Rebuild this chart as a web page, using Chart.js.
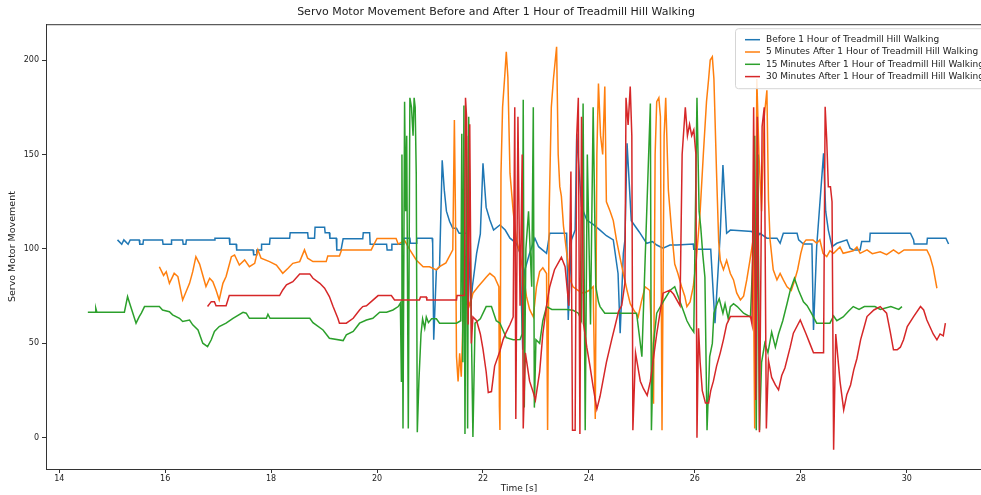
<!DOCTYPE html>
<html>
<head>
<meta charset="utf-8">
<title>Servo Motor Movement</title>
<script src="https://cdn.jsdelivr.net/npm/chart.js@4.4.1/dist/chart.umd.min.js"></script>
<style>
  html, body { margin: 0; padding: 0; background: #fff; overflow: hidden; }
</style>
</head>
<body>
<canvas id="servoChart" width="992" height="495"></canvas>
<script>
// series labels
const seriesLabels = [
    "Before 1 Hour of Treadmill Hill Walking",
    "5 Minutes After 1 Hour of Treadmill Hill Walking",
    "15 Minutes After 1 Hour of Treadmill Hill Walking",
    "30 Minutes After 1 Hour of Treadmill Hill Walking"
];

// [time in s, servo movement]
const beforeData = [
    [15.10,104.8],[15.18,102.5],[15.22,104.8],[15.30,102.5],[15.34,104.8],[15.51,104.8],[15.52,102.5],[15.58,102.5],[15.59,104.8],
    [15.95,104.8],[15.96,102.5],[16.11,102.5],[16.12,104.8],[16.33,104.8],[16.34,102.5],[16.39,102.5],[16.40,104.8],[16.93,104.8],
    [16.94,105.7],[17.21,105.7],[17.22,102.5],[17.34,102.5],[17.35,99.5],[17.66,99.5],[17.67,97],[17.72,97],[17.73,99.5],[17.81,99.5],
    [17.82,102.5],[17.97,102.5],[17.98,105.7],[18.35,105.7],[18.36,108.6],[18.69,108.6],[18.70,105.7],[18.82,105.7],[18.83,111.5],
    [19.01,111.5],[19.02,108.6],[19.10,108.6],[19.11,105.7],[19.23,105.7],[19.24,99.5],[19.32,99.5],[19.36,105.4],[19.73,105.4],
    [19.74,108.6],[19.86,108.6],[19.87,102.5],[20.18,102.5],[20.19,99.5],[20.27,99.5],[20.28,102.5],[20.50,102.5],[20.51,105.7],
    [20.62,105.7],[20.63,103],[20.74,103],[20.75,105.7],[21.04,105.7],[21.05,103],
    [21.07,51.9],[21.12,88.9],[21.18,90.6],[21.23,147],[21.27,131],[21.31,120],[21.37,114.5],[21.43,110.9],[21.50,110.9],[21.55,108.3],
    [21.72,108.3],[21.77,69.9],[21.80,80],[21.88,97.7],[21.95,108],[22.00,145.4],[22.06,122],[22.13,115.3],[22.20,110],[22.32,112.7],
    [22.42,110],[22.51,105.7],[22.63,103],[22.70,97.7],[22.75,46.6],[22.79,88.9],[22.88,97.7],[22.98,105.7],[23.05,101.2],[23.20,97.7],
    [23.26,108.3],[23.40,108.3],[23.58,108.3],[23.61,62.4],[23.67,104.8],[23.74,110],[23.77,161],[23.86,122.4],[23.96,115.3],
    [24.08,113],[24.21,110],[24.33,107],[24.46,104.8],[24.55,87],[24.59,55.4],[24.65,97.7],[24.68,104.8],[24.72,155.9],
    [24.80,115],[24.95,109],[25.09,103],[25.20,103.9],[25.28,102.1],[25.40,100.4],[25.53,102.1],[25.66,102.1],
    [25.97,102.6],[25.98,99.8],[26.30,99.8],[26.38,60.7],[26.48,108.3],[26.53,144.4],[26.60,108.3],[26.67,110],[27.08,109.2],[27.14,104.8],
    [27.23,108.3],[27.36,105.7],[27.55,105.7],[27.61,103],[27.67,108.3],[27.93,108.3],[27.96,104.8],[28.05,102.6],[28.21,102.6],[28.24,57.1],
    [28.30,101.2],[28.43,150.6],[28.47,120],[28.52,110],[28.59,101.2],[28.68,103],[28.87,104.8],[28.93,100.4],[28.99,99.5],[29.12,99.5],
    [29.15,103.9],[29.30,103.9],[29.31,108.3],[30.07,108.3],[30.13,104.8],[30.14,102.6],[30.38,102.6],[30.39,105.7],[30.74,105.7],[30.79,102.6]
];

const fiveMinData = [
    [15.89,90.6],[15.97,86],[16.02,88],[16.08,81.8],[16.17,87.1],[16.24,85.4],[16.33,73],[16.46,81.8],[16.52,88],[16.58,95.9],[16.65,92],
    [16.77,80.1],[16.84,84.5],[16.90,82.7],[16.96,78.3],[17.02,73],[17.09,81.8],[17.15,85.4],[17.25,95.9],[17.31,96.8],[17.40,91.5],
    [17.50,94.2],[17.59,90.6],[17.69,92.4],[17.75,99.5],[17.81,95.1],[17.97,93.3],[18.10,91.5],[18.22,87.1],[18.32,89.8],[18.41,92.4],
    [18.54,93.3],[18.63,99.5],[18.69,95.1],[18.79,93.3],[19.04,93.3],[19.07,96.3],[19.29,96.3],[19.33,99.5],[19.89,99.5],[19.92,101.2],
    [20.00,105.6],[20.36,105.6],[20.40,102.5],[20.52,104.5],[20.62,99.5],[20.74,94.2],[20.87,90.6],[20.99,90.6],[21.12,88.9],[21.18,90.6],
    [21.30,92.6],[21.43,99.5],
    [21.46,168.3],[21.48,120],[21.50,43],[21.53,29.9],[21.56,44.8],[21.59,32.4],[21.62,60],[21.69,76.5],[21.75,70],[21.81,76.5],[21.91,80.1],
    [22.00,83],[22.06,85],[22.13,87.1],[22.22,85],[22.30,80],[22.31,16.6],[22.32,4.2],[22.34,140],[22.37,175],[22.41,191.2],
    [22.44,204.4],[22.47,191],[22.51,140],[22.57,120],[22.63,104.8],[22.70,97.7],[22.76,87],[22.82,75],[22.88,68],[22.95,64],
    [23.01,80],[23.07,88],[23.13,90],[23.20,87],[23.22,4.2],[23.25,120],[23.29,175],[23.33,190],[23.39,207],[23.42,150],
    [23.45,133],[23.48,128],[23.52,112],[23.58,98],[23.64,84],[23.70,80],[23.80,78],[23.90,76.5],[24.00,78],[24.08,80],[24.12,10],
    [24.15,150],[24.18,187.6],[24.22,160],[24.26,150],[24.30,186],[24.33,125],[24.40,120],[24.46,115],[24.52,104.8],[24.59,95],[24.65,87],
    [24.72,78],[24.78,71],[24.84,68],[24.93,64],[24.99,72],[25.06,80],[25.15,78],[25.20,40],[25.22,18],[25.25,150],[25.28,178],[25.32,180],
    [25.35,170],[25.38,4],[25.42,160],[25.45,180],[25.50,131],[25.56,110],[25.62,92],[25.68,87],[25.75,80],[25.81,75],[25.85,69.5],[25.91,72],
    [25.97,80],[26.03,95],[26.10,120],[26.16,150],[26.22,178],[26.26,190],[26.29,200],[26.33,201.7],[26.36,190],[26.41,140],[26.45,104],
    [26.48,94],[26.54,89],[26.60,94],[26.67,87],[26.73,83.6],[26.79,76.7],[26.86,73],[26.92,75],[26.98,83.6],[27.04,94],[27.10,105],
    [27.13,5],[27.17,190],[27.21,150],[27.26,120],[27.31,170],[27.36,184],[27.39,126],[27.42,104.8],[27.48,89],[27.55,83.6],[27.61,87],
    [27.67,83.6],[27.74,80],[27.82,78],[27.88,83],[27.94,89],[28.00,97.7],[28.05,103],[28.10,104.8],[28.23,104.8],[28.30,103],[28.36,104.8],
    [28.42,97.7],[28.49,96],[28.55,99],[28.62,97.7],[28.74,101],[28.80,97.7],[28.99,99],[29.06,101],[29.12,97.7],[29.25,99.5],[29.35,97.5],
    [29.50,98.5],[29.62,97],[29.75,99.5],[29.85,97.5],[29.95,99.5],[30.38,99.5],[30.44,96],[30.50,90],[30.57,79.2]
];

const fifteenMinData = [
    [14.54,66.5],[14.69,66.5],[14.69,68.6],[14.71,66.5],[15.23,66.5],[15.29,74.8],[15.32,72.1],[15.39,66],[15.45,60.7],[15.51,64.2],
    [15.55,66],[15.61,69.5],[15.89,69.5],[15.95,67.7],[16.08,66.8],[16.14,65.1],[16.27,63.3],[16.33,61.6],[16.46,62.4],[16.52,59.8],
    [16.62,57.1],[16.71,50.1],[16.80,48.3],[16.87,51.9],[16.93,56.3],[17.02,58.9],[17.15,60.7],[17.28,63.3],[17.47,66.5],[17.53,66],
    [17.59,63.3],[17.91,63.3],[17.94,65.4],[17.98,63.3],[18.73,63.3],[18.79,61],[18.98,57.1],[19.10,52.7],[19.36,51.5],[19.42,54.5],
    [19.55,56.3],[19.67,60.7],[19.80,62.4],[19.92,63.3],[20.05,66.5],[20.18,66.5],[20.30,67.7],[20.40,69.5],[20.44,71.3],
    [20.46,30],[20.47,150],[20.49,5],[20.52,178],[20.54,120],[20.56,160],[20.59,5],[20.62,180],[20.65,175],[20.68,160],[20.70,180],
    [20.72,175],[20.74,140],[20.76,3],[20.79,30],[20.83,55],[20.86,63],[20.90,58],[20.93,64],[20.97,61],[21.03,63],[21.12,63],
    [21.18,60.7],[21.50,60.7],[21.58,62],[21.60,161],[21.62,40],[21.64,176],[21.66,2],[21.69,160],[21.71,5],[21.73,170],[21.78,60],
    [21.81,0.5],[21.85,60.7],[21.95,63],[22.06,69.5],[22.16,69.5],[22.25,62],[22.32,60.7],[22.44,53],[22.57,51.9],[22.70,52],[22.74,55],
    [22.76,179],[22.78,16],[22.81,100],[22.86,120],[22.92,80],[22.95,175],[22.97,16],[23.00,51.9],[23.07,50],[23.13,62],
    [23.20,69.5],[23.30,68],[23.45,68],[23.58,68],[23.70,67.5],[23.80,66],[23.86,62],[23.89,177],[23.93,4],[23.97,150],[24.03,60],
    [24.08,175],[24.13,80],[24.18,72],[24.21,69.5],[24.30,66],[24.46,66],[24.65,66],[24.74,66],[24.90,66],[24.97,50],[25.00,43],
    [25.16,177],[25.18,4],[25.22,50],[25.28,66],[25.40,72],[25.53,78],[25.62,80],[25.72,72],[25.80,66],[25.85,62],
    [25.91,58.9],[25.98,56],[26.04,180],[26.08,120],[26.11,112],[26.15,97],[26.19,85],[26.23,4],[26.28,43],[26.33,50],[26.36,66],
    [26.42,71],[26.46,73.6],[26.53,66],[26.57,71],[26.63,63],[26.67,69.5],[26.73,71],[26.80,69.5],
    [26.92,66],[27.05,64],[27.10,100],[27.13,160],[27.16,4],[27.19,150],[27.22,4],[27.26,40],[27.32,50],[27.38,45],[27.45,56],
    [27.52,48],[27.58,55],[27.66,62],[27.74,71],[27.80,78],[27.88,84.5],[27.96,78],[28.05,72],[28.12,70],[28.20,66],[28.30,60.7],
    [28.55,60.7],[28.62,64.5],[28.68,62],[28.80,64],[28.90,67],[28.99,69.5],[29.10,68],[29.20,69.5],[29.40,69.5],[29.50,68],
    [29.70,69.5],[29.85,68],[29.91,69.5]
];

const thirtyMinData = [
    [16.80,69.5],[16.87,72.1],[16.93,72.1],[16.96,69.9],[17.15,69.9],[17.21,75.3],[18.16,75.3],[18.22,78.3],[18.29,81],[18.41,82.7],
    [18.54,86.8],[18.73,86.8],[18.79,84.5],[18.92,81.8],[19.01,79.2],[19.10,74.8],[19.17,69.5],[19.26,63.3],[19.29,60.7],[19.42,60.7],
    [19.55,63.3],[19.67,67.7],[19.73,69.5],[19.80,69.9],[19.89,72.1],[20.02,75.3],[20.27,75.3],[20.33,73],[20.80,73],[20.82,74.5],
    [20.93,74.5],[20.94,73],[21.50,73],[21.51,75.3],[21.65,75.3],
    [21.67,180],[21.69,170],[21.72,60],[21.75,166],[21.78,50],[21.81,64],[21.88,62],[21.95,55],[22.00,47],[22.06,35],
    [22.10,24],[22.16,24.5],[22.22,38],[22.32,46],[22.38,52],[22.44,56],[22.51,60],[22.57,64],[22.60,175],[22.62,10],
    [22.66,170],[22.70,70],[22.74,150],[22.76,5],[22.80,45],[22.88,30],[22.95,24],[22.99,20],[23.07,35],[23.13,55],[23.20,70],
    [23.26,80],[23.35,89],[23.48,95.6],[23.55,90.6],[23.62,70],[23.66,141],[23.69,4],[23.74,4],[23.77,160],[23.80,180],[23.83,2],
    [23.86,170],[23.90,60],[23.96,48],[24.02,38],[24.08,27],[24.15,15.2],[24.21,22],[24.33,40],[24.43,52],[24.50,60],
    [24.56,67],[24.62,70],[24.68,82],[24.70,180],[24.74,165.6],[24.78,186],[24.81,160],[24.83,4],[24.88,45],[24.97,30],[25.03,26],
    [25.10,22.5],[25.16,30],[25.28,55],[25.40,76.6],[25.53,78.2],[25.60,76],[25.72,70],[25.76,150],[25.82,175],
    [25.86,160],[25.90,166],[25.94,160],[25.98,163],[26.02,150],[26.04,0],[26.07,58],[26.10,40],[26.14,25],[26.20,18.4],[26.26,18.4],
    [26.30,25],[26.35,30],[26.41,38],[26.48,45],[26.54,52],[26.60,60],[26.67,64.2],[27.05,64.2],[27.08,60],[27.11,175],[27.15,20],
    [27.18,170],[27.22,3],[27.27,165],[27.31,175],[27.35,5],[27.39,41],[27.45,32],[27.52,28],[27.58,25.4],[27.64,33],[27.70,37],
    [27.80,48],[27.86,55.4],[27.99,62.4],[28.10,55],[28.17,50],[28.24,45],[28.43,45],[28.46,175.3],[28.49,157.7],[28.52,133],
    [28.56,133],[28.59,125],[28.62,-6.3],[28.66,55],[28.74,30],[28.81,14.8],[28.87,23],[28.94,28],[29.00,36],[29.06,42],[29.13,52],
    [29.19,58],[29.25,64.2],[29.38,67.7],[29.50,69.5],[29.62,66],[29.69,56],[29.75,46.6],[29.82,46.6],[29.88,48],[29.94,51.9],
    [30.01,58.9],[30.13,64.2],[30.26,69.5],[30.32,67.7],[30.38,62.4],[30.50,55],[30.57,51.9],[30.63,55],[30.69,54],[30.73,60.7]
];

const seriesColors = ["#1f77b4", "#ff7f0e", "#2ca02c", "#d62728"];
const xTicks = [14, 16, 18, 20, 22, 24, 26, 28, 30];
const yTicks = [0, 50, 100, 150, 200];

const allSeries = [beforeData, fiveMinData, fifteenMinData, thirtyMinData];

// matplotlib style box around the axes
const axesFrame = {
    id: "axesFrame",
    afterDatasetsDraw(chart) {
        const { ctx, chartArea: a } = chart;
        ctx.save();
        ctx.strokeStyle = "#333";
        ctx.lineWidth = 1;
        ctx.strokeRect(a.left + 0.5, a.top + 0.5, a.right - a.left, a.bottom - a.top);
        ctx.restore();
    }
};

// legend drawn inside the plot, upper right
const insideLegend = {
    id: "insideLegend",
    afterDraw(chart) {
        const { ctx, chartArea: a } = chart;
        const left = a.left + 689;
        const top = a.top + 4;
        const right = a.right - 3;
        ctx.save();
        ctx.fillStyle = "rgba(255,255,255,0.85)";
        ctx.strokeStyle = "#d5d5d5";
        ctx.lineWidth = 1;
        ctx.beginPath();
        ctx.roundRect(left + 0.5, top + 0.5, right - left, 60, 3);
        ctx.fill();
        ctx.stroke();
        ctx.font = '9px "DejaVu Sans"';
        ctx.textBaseline = "middle";
        chart.data.datasets.forEach((ds, i) => {
            const y = top + 11.5 + i * 12.3;
            ctx.strokeStyle = ds.borderColor;
            ctx.lineWidth = 1.5;
            ctx.beginPath();
            ctx.moveTo(left + 10, y);
            ctx.lineTo(left + 25, y);
            ctx.stroke();
            ctx.fillStyle = "#222";
            ctx.fillText(ds.label, left + 31, y);
        });
        ctx.restore();
    }
};

const chart = new Chart(document.getElementById("servoChart").getContext("2d"), {
    type: "line",
    data: {
        datasets: allSeries.map((series, i) => ({
            label: seriesLabels[i],
            data: series.map(([x, y]) => ({ x, y })),
            borderColor: seriesColors[i],
            backgroundColor: seriesColors[i],
            borderWidth: 1.5,
            pointRadius: 0,
            tension: 0,
            fill: false,
            order: 4 - i // later series on top, like matplotlib
        }))
    },
    options: {
        responsive: false,
        animation: false,
        layout: { padding: 0 },
        plugins: {
            legend: { display: false },
            tooltip: { enabled: false },
            title: {
                display: true,
                text: "Servo Motor Movement Before and After 1 Hour of Treadmill Hill Walking",
                color: "#222",
                font: { family: "DejaVu Sans", size: 11, weight: "normal" },
                padding: { top: 6, bottom: 5 }
            }
        },
        scales: {
            x: {
                type: "linear",
                min: 13.75,
                max: 31.61,
                afterFit: (s) => { s.height = 26; },
                afterBuildTicks: (s) => { s.ticks = xTicks.map((v) => ({ value: v })); },
                grid: { drawOnChartArea: false, drawTicks: true, tickLength: 4, color: "#333" },
                border: { display: true, color: "#333" },
                ticks: { color: "#222", padding: 1, maxRotation: 0, font: { family: "DejaVu Sans", size: 8 } },
                title: {
                    display: true,
                    text: "Time [s]",
                    color: "#222",
                    font: { family: "DejaVu Sans", size: 9 },
                    padding: { top: 0, bottom: 1 }
                }
            },
            y: {
                min: -16.5,
                max: 219,
                afterFit: (s) => { s.width = 46; },
                afterBuildTicks: (s) => { s.ticks = yTicks.map((v) => ({ value: v })); },
                grid: { drawOnChartArea: false, drawTicks: true, tickLength: 4, color: "#333" },
                border: { display: true, color: "#333" },
                ticks: { color: "#222", padding: 3, font: { family: "DejaVu Sans", size: 8 } },
                title: {
                    display: true,
                    text: "Servo Motor Movement",
                    color: "#222",
                    font: { family: "DejaVu Sans", size: 9.5 },
                    padding: { top: 7, bottom: 0 }
                }
            }
        }
    },
    plugins: [axesFrame, insideLegend]
});
</script>
</body>
</html>
